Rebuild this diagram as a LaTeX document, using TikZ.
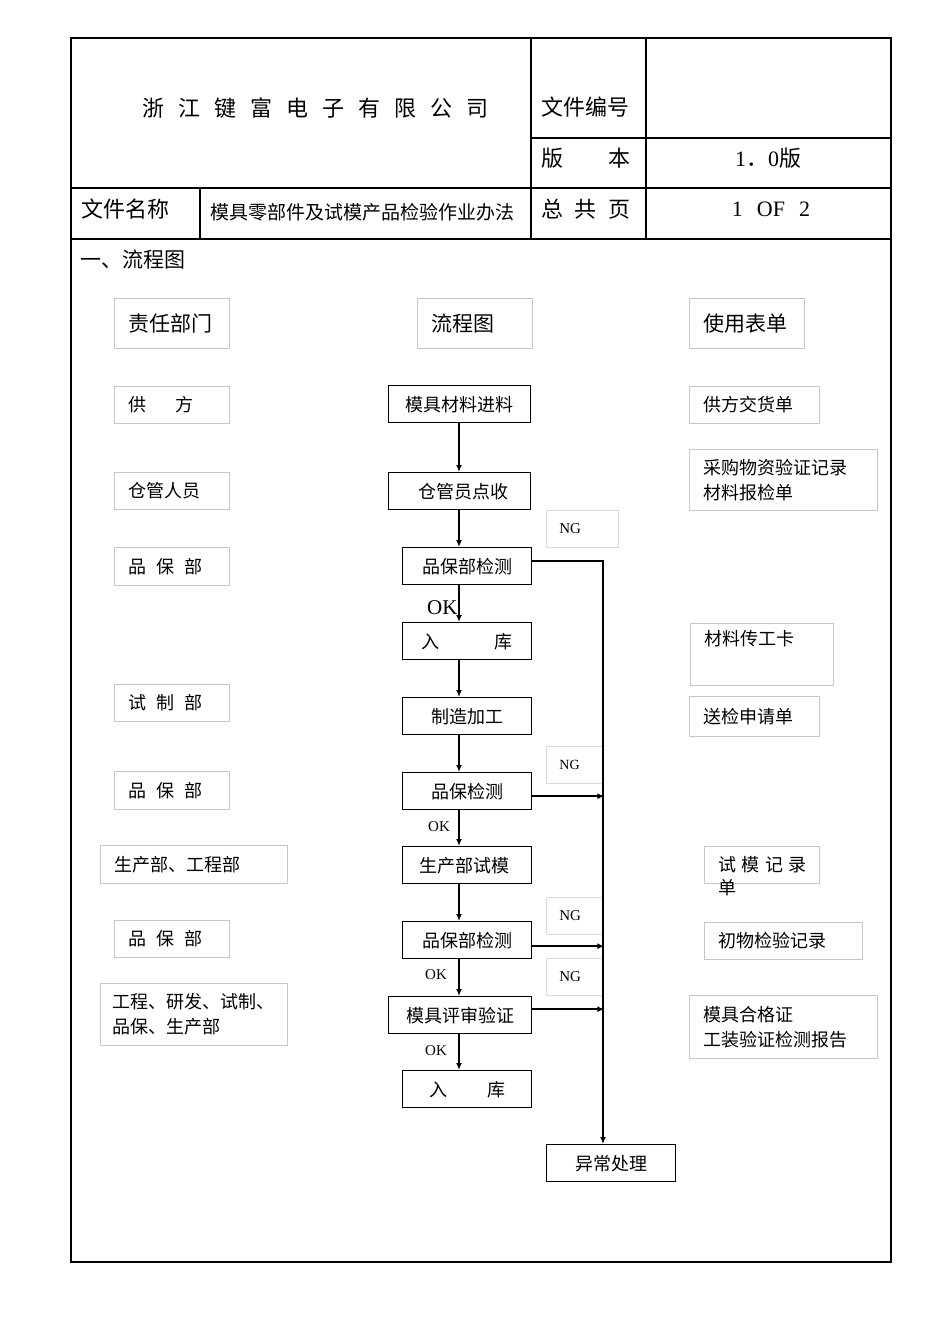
\documentclass[tikz,border=0pt]{standalone}
\usepackage{fontspec}
\setmainfont{Liberation Serif}
\newfontfamily\cjk{Noto Sans CJK SC}
\usetikzlibrary{arrows.meta,calc}
\newcommand\cbx{\cjk\fontsize{18}{25}\selectfont}
\newcommand\chd{\cjk\fontsize{21}{26}\selectfont}
\begin{document}
\begin{tikzpicture}[x=1pt,y=-1pt,
  fb/.style={draw=black, line width=1.4pt, minimum height=37pt, inner sep=0pt, anchor=north west, font=\cbx},
  gb/.style={draw=black!22, line width=0.9pt, anchor=north west, inner xsep=14pt, inner ysep=0pt, align=left, font=\cbx},
  ngb/.style={draw=black!15, line width=0.8pt, anchor=north west, inner xsep=13pt, inner ysep=0pt, align=left, minimum height=37pt, font=\fontsize{14}{16}\selectfont},
  tl/.style={anchor=west, inner sep=0pt},
  arr/.style={line width=1.5pt, -{Latex[length=7pt,width=6pt]}},
  ln/.style={line width=1.5pt}]
\useasboundingbox (0,0) rectangle (950,1344);
\fill[white] (0,0) rectangle (950,1344);
% ---- table frame ----
\draw[line width=1.2pt] (71,38) rectangle (891,1262);
\draw[line width=2pt] (71,38) -- (71,1262);
\draw[line width=1.8pt] (531,138) -- (891,138);
\draw[line width=1.1pt] (71,188) -- (891,188);
\draw[line width=1.1pt] (71,239) -- (891,239);
\draw[line width=1.1pt] (531,38) -- (531,239);
\draw[line width=1.1pt] (646,38) -- (646,239);
\draw[line width=1.1pt] (200,188) -- (200,239);
% ---- header texts ----
\newcommand\tg{\hspace{14pt}}
\node[tl, font=\cjk\fontsize{22}{26}\selectfont] (co) at (142,108) {浙\tg 江\tg 键\tg 富\tg 电\tg 子\tg 有\tg 限\tg 公\tg 司};
\node[tl, font=\cjk\fontsize{22}{26}\selectfont] (wjbh) at (541,107) {文件编号};
\node[tl, font=\cjk\fontsize{22}{26}\selectfont] (bb) at (541,158) {版\hspace{45pt}本};
\node[font=\fontsize{22}{26}\selectfont, inner sep=0pt] (ver) at (768,158) {1{\cjk ．}0{\cjk 版}};
\node[tl, font=\cjk\fontsize{22}{26}\selectfont] (wjmc) at (81,209) {文件名称};
\node[tl, font=\cjk\fontsize{19}{24}\selectfont] (name) at (210,212) {模具零部件及试模产品检验作业办法};
\node[tl, font=\cjk\fontsize{22}{26}\selectfont] (zgy) at (541,209) {总\hspace{11.5pt}共\hspace{11.5pt}页};
\node[font=\fontsize{22}{26}\selectfont, inner sep=0pt] (pg) at (771,209) {1\hspace{14pt}OF\hspace{14pt}2};
\node[tl, font=\cjk\fontsize{21}{26}\selectfont] (lct) at (80,260) {一、流程图};
% ---- column headers ----
\node[gb, font=\chd, text width=87pt, minimum height=50pt] (h1) at (114,298) {责任部门};
\node[gb, font=\chd, text width=87pt, minimum height=50pt] (h2) at (417,298) {流程图};
\node[gb, font=\chd, text width=87pt, minimum height=50pt] (h3) at (689,298) {使用表单};
% ---- left column ----
\node[gb, text width=87pt, minimum height=37pt] (l1) at (114,386) {供\hspace{29pt}方};
\node[gb, text width=87pt, minimum height=37pt] (l2) at (114,472) {仓管人员};
\node[gb, text width=87pt, minimum height=38pt] (l3) at (114,547) {品\hspace{10pt}保\hspace{10pt}部};
\node[gb, text width=87pt, minimum height=37pt] (l4) at (114,684) {试\hspace{10pt}制\hspace{10pt}部};
\node[gb, text width=87pt, minimum height=38pt] (l5) at (114,771) {品\hspace{10pt}保\hspace{10pt}部};
\node[gb, text width=159pt, minimum height=38pt] (l6) at (100,845) {生产部、工程部};
\node[gb, text width=87pt, minimum height=37pt] (l7) at (114,920) {品\hspace{10pt}保\hspace{10pt}部};
\node[gb, inner xsep=12pt, text width=163pt, minimum height=62pt] (l8) at (100,983) {工程、研发、试制、\\品保、生产部};
% ---- right column ----
\node[gb, text width=102pt, minimum height=37pt] (r1) at (689,386) {供方交货单};
\node[gb, text width=160pt, minimum height=61pt] (r2) at (689,449) {采购物资验证记录\\材料报检单};
\node[gb, text width=115pt, minimum height=62pt] (r3) at (690,623) {材料传工卡\\\strut};
\node[gb, text width=102pt, minimum height=40pt] (r4) at (689,696) {送检申请单};
\node[gb, text width=87pt, minimum height=37pt] (r5) at (704,846) {\mbox{试\hspace{5.5pt}模\hspace{5.5pt}记\hspace{5.5pt}录}};
\node[anchor=north west, inner sep=0pt, font=\cbx] (r5b) at (718,879) {单};
\node[gb, text width=130pt, minimum height=37pt] (r6) at (704,922) {初物检验记录};
\node[gb, text width=160pt, minimum height=63pt] (r7) at (689,995) {模具合格证\\工装验证检测报告};
% ---- flow boxes ----
\node[fb, minimum width=142pt] (b1) at (388,385) {模具材料进料};
\node[fb, minimum width=142pt] (b2) at (388,472) {\hspace{8pt}仓管员点收};
\node[fb, minimum width=129pt] (b3) at (402,547) {品保部检测};
\node[fb, minimum width=129pt] (b4) at (402,622) {入\hspace{55pt}库};
\node[fb, minimum width=129pt] (b5) at (402,697) {制造加工};
\node[fb, minimum width=129pt] (b6) at (402,772) {品保检测};
\node[fb, minimum width=129pt] (b7) at (402,846) {\hspace{-6pt}生产部试模};
\node[fb, minimum width=129pt] (b8) at (402,921) {品保部检测};
\node[fb, minimum width=143pt] (b9) at (388,996) {模具评审验证};
\node[fb, minimum width=129pt] (b10) at (402,1070) {入\hspace{40pt}库};
\node[fb, minimum width=129pt] (ex) at (546,1144) {异常处理};
% ---- NG boxes ----
\node[ngb, text width=46pt, font=\fontsize{15}{17}\selectfont] (ng1) at (546,510) {NG};
\node[ngb, text width=31pt] (ng2) at (546,746) {NG};
\node[ngb, text width=31pt, font=\fontsize{15}{17}\selectfont] (ng3) at (546,897) {NG};
\node[ngb, text width=31pt, font=\fontsize{15}{17}\selectfont] (ng4) at (546,958) {NG};
% ---- OK labels ----
\node[tl, font=\fontsize{21}{24}\selectfont] (ok1) at (427,608) {OK};
\node[tl, font=\fontsize{15}{17}\selectfont] (ok2) at (428,827) {OK};
\node[tl, font=\fontsize{15}{17}\selectfont] (ok3) at (425,975) {OK};
\node[tl, font=\fontsize{15}{17}\selectfont] (ok4) at (425,1051) {OK};
% ---- connectors ----
\coordinate (sx) at (459,0);
\coordinate (sp) at (603,0);
\draw[arr] (b1.south -| sx) -- (b2.north -| sx);
\draw[arr] (b2.south -| sx) -- (b3.north -| sx);
\draw[arr] (b3.south -| sx) -- (b4.north -| sx);
\draw[arr] (b4.south -| sx) -- (b5.north -| sx);
\draw[arr] (b5.south -| sx) -- (b6.north -| sx);
\draw[arr] (b6.south -| sx) -- (b7.north -| sx);
\draw[arr] (b7.south -| sx) -- (b8.north -| sx);
\draw[arr] (b8.south -| sx) -- (b9.north -| sx);
\draw[arr] (b9.south -| sx) -- (b10.north -| sx);
\draw[arr] ($(b3.east)+(0,-5)$) -| (ex.north -| sp);
\draw[arr] ($(b6.east)+(0,5)$) -- ($(b6.east)+(72,5)$);
\draw[arr] ($(b8.east)+(0,6)$) -- ($(b8.east)+(72,6)$);
\draw[arr] ($(b9.east)+(0,-6)$) -- ($(b9.east)+(72,-6)$);
\end{tikzpicture}
\end{document}
